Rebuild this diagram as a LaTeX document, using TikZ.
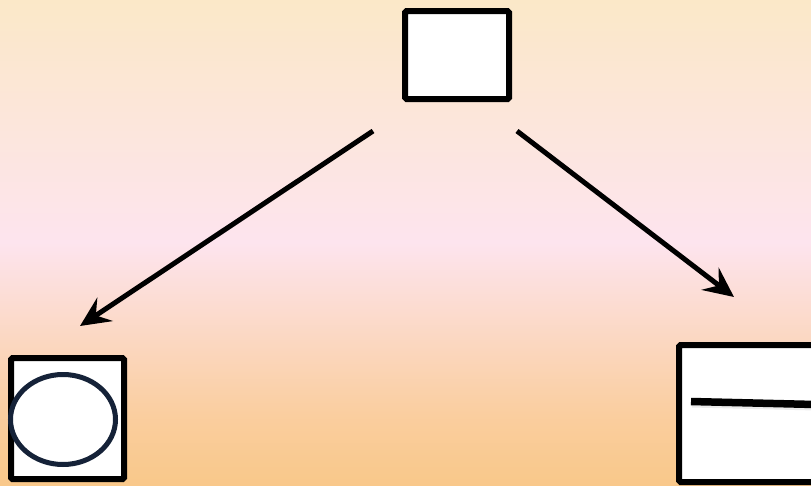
\documentclass[tikz,border=0pt]{standalone}
\usetikzlibrary{arrows.meta,shapes.geometric,calc}
\definecolor{creamtop}{HTML}{FBE8C8}
\definecolor{pinkmid}{HTML}{FDE4EE}
\definecolor{orangebot}{HTML}{F9C88A}
\definecolor{navy}{HTML}{152238}
\pgfdeclareverticalshading{bgshade}{100bp}{color(0bp)=(orangebot); color(25bp)=(orangebot); color(32bp)=(orangebot!80!pinkmid); color(50bp)=(pinkmid); color(75bp)=(creamtop); color(100bp)=(creamtop)}
\tikzset{
  boxstyle/.style={draw=black, line width=6pt, fill=white, rounded corners=1.5pt, inner sep=0pt},
  arrowstyle/.style={line width=5pt, -{Stealth[length=30pt,width=28pt,inset=11pt]}},
}
\begin{document}
\begin{tikzpicture}[x=1pt,y=-1pt]
\useasboundingbox (0,0) rectangle (811,485);
\clip (0,0) rectangle (811,485);
\shade[shading=bgshade] (0,0) rectangle (811,485);
% top box
\node[boxstyle, minimum width=104pt, minimum height=88pt] (top) at (457,55) {};
% left box with ellipse
\node[boxstyle, minimum width=113pt, minimum height=121pt] (leftbox) at (67.5,418.5) {};
\node[draw=navy, line width=5pt, ellipse, fill=white, minimum width=105pt, minimum height=90pt, inner sep=0pt] (oval) at (63,419.5) {};
% right box (extends past the edge)
\node[boxstyle, minimum width=180pt, minimum height=137pt, anchor=north west] (rightbox) at (676,342) {};
\coordinate (barL) at (691,401.5);
\coordinate (barR) at (815,404.5);
\draw[line width=7pt, black!15, opacity=0.5] ($(barL)+(1,2.5)$) -- ($(barR)+(1,2.5)$);
\draw[line width=7.5pt, black] (barL) -- (barR);
% arrows
\coordinate (s1) at (373,131);
\coordinate (e1) at (80,326);
\coordinate (s2) at (517,131);
\coordinate (e2) at (734,297);
\draw[arrowstyle] (s1) -- (e1);
\draw[arrowstyle] (s2) -- (e2);
\end{tikzpicture}
\end{document}
